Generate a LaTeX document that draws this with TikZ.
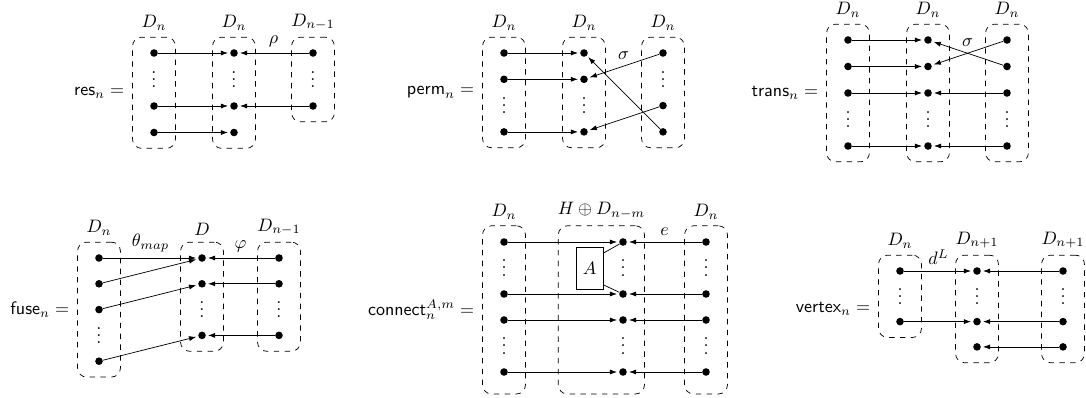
\documentclass[tikz,border=0pt]{standalone}
\usepackage{amsmath,amssymb}
\usepackage{tikz}
\usetikzlibrary{positioning,arrows.meta,fit,calc}

\begin{document}
\begin{tikzpicture}[x=0.555pt,y=-0.555pt,
  pt/.style={circle,fill,inner sep=0pt,minimum size=4.2pt},
  vd/.style={inner sep=0pt,yshift=3pt},
  grp/.style={draw,dashed,rounded corners=5pt,inner xsep=9.6pt,inner ysep=6.5pt},
  arr/.style={-{Latex[length=4pt,width=2.8pt]},shorten >=1pt}]
\useasboundingbox (0,0) rectangle (1086,398);

% res
\begin{scope}[shift={(154,53)}]
\foreach \c/\x/\rows in {1/0/{0,2,3},2/80/{0,2,3},3/159/{0,2}}
  \foreach \r in \rows \node[pt] (res\c\r) at (\x,\r*26.5) {};
\foreach \c/\x in {1/0,2/80,3/159} \node[vd] (resv\c) at (\x,26.5) {$\vdots$};
\node[grp,fit=(res10)(res13),label=above:$D_n$] (resb1) {};
\node[grp,fit=(res20)(res23),label=above:$D_n$] (resb2) {};
\node[grp,fit=(res30)(res32),label=above:$D_{n-1}$] (resb3) {};
\node[left=1pt of resb1] (reseq) {$\mathsf{res}_n =$};
\foreach \a/\b in {10/20,12/22,13/23,32/22} \draw[arr] (res\a) -- (res\b);
\draw[arr] (res30) -- node[above] {$\rho$} (res20);
\end{scope}

% perm
\begin{scope}[shift={(504,53)}]
\foreach \c/\x/\rows in {1/0/{0,1,3},2/80/{0,1,3},3/159/{0,2,3}}
  \foreach \r in \rows \node[pt] (prm\c\r) at (\x,\r*26.3) {};
\foreach \c/\x/\r in {1/0/2,2/80/2,3/159/1} \node[vd] (prmv\c) at (\x,\r*26.3) {$\vdots$};
\node[grp,fit=(prm10)(prm13),label=above:$D_n$] (prmb1) {};
\node[grp,fit=(prm20)(prm23),label=above:$D_n$] (prmb2) {};
\node[grp,fit=(prm30)(prm33),label=above:$D_n$] (prmb3) {};
\node[left=1pt of prmb1] (prmeq) {$\mathsf{perm}_n =$};
\foreach \a/\b in {10/20,11/21,13/23,33/20,32/23} \draw[arr] (prm\a) -- (prm\b);
\draw[arr] (prm30) -- node[above] {$\sigma$} (prm21);
\end{scope}

% trans
\begin{scope}[shift={(848,40)}]
\foreach \c/\x in {1/0,2/80,3/159}{
  \foreach \r in {0,1,2,4} \node[pt] (trn\c\r) at (\x,\r*26.5) {};
  \node[vd] (trnv\c) at (\x,3*26.5) {$\vdots$};
}
\node[grp,fit=(trn10)(trn14),label=above:$D_n$] (trnb1) {};
\node[grp,fit=(trn20)(trn24),label=above:$D_n$] (trnb2) {};
\node[grp,fit=(trn30)(trn34),label=above:$D_n$] (trnb3) {};
\node[left=1pt of trnb1] (trneq) {$\mathsf{trans}_n =$};
\foreach \a/\b in {10/20,11/21,12/22,14/24,31/20,32/22,34/24} \draw[arr] (trn\a) -- (trn\b);
\draw[arr] (trn30) -- node[above] {$\sigma$} (trn21);
\end{scope}

% fuse
\begin{scope}[shift={(99,258)}]
\foreach \c/\x/\rows in {1/0/{0,1,2,4},2/103/{0,1,3},3/180/{0,1,3}}
  \foreach \r in \rows \node[pt] (fus\c\r) at (\x,\r*25.8) {};
\foreach \c/\x/\r in {1/0/3,2/103/2,3/180/2} \node[vd] (fusv\c) at (\x,\r*25.8) {$\vdots$};
\node[grp,fit=(fus10)(fus14),label=above:$D_n$] (fusb1) {};
\node[grp,fit=(fus20)(fus23),label=above:$D$] (fusb2) {};
\node[grp,fit=(fus30)(fus33),label=above:$D_{n-1}$] (fusb3) {};
\node[left=1pt of fusb1] (fuseq) {$\mathsf{fuse}_n =$};
\foreach \a/\b in {11/20,12/21,14/23,31/21,33/23} \draw[arr] (fus\a) -- (fus\b);
\draw[arr] (fus10) -- node[above] {$\theta_{map}$} (fus20);
\draw[arr] (fus30) -- node[above] {$\varphi$} (fus20);
\end{scope}

% connect
\begin{scope}[shift={(504,242)},grp/.append style={inner ysep=8.3pt,yshift=-1.6pt}]
\foreach \c/\x in {1/0,2/119,3/202}{
  \foreach \r in {0,2,3,5} \node[pt] (con\c\r) at (\x,\r*26) {};
  \foreach \r in {1,4} \node[vd] (conv\c\r) at (\x,\r*26) {$\vdots$};
}
\node[draw,inner sep=0pt,minimum width=15pt,minimum height=23.3pt] (A) at (85.5,26.5) {$A$};
\node[grp,fit=(con10)(con15),label=above:$D_n$] (conb1) {};
\node[grp,fit=(A)(con20)(con25),label=above:$H \oplus D_{n-m}$] (conb2) {};
\node[grp,fit=(con30)(con35),label=above:$D_n$] (conb3) {};
\node[left=1pt of conb1] (coneq) {$\mathsf{connect}^{A,m}_n =$};
\foreach \a/\b in {10/20,12/22,13/23,15/25,32/22,33/23,35/25} \draw[arr] (con\a) -- (con\b);
\draw[arr] (con30) -- node[above] {$e$} (con20);
\draw ($(A.north east)+(0,6)$) -- (con20);
\draw ($(A.south east)+(0,-5)$) -- (con22);
\end{scope}

% vertex
\begin{scope}[shift={(900,271)}]
\foreach \c/\x/\rows in {1/0/{0,2},2/77/{0,2,3},3/163/{0,2,3}}
  \foreach \r in \rows \node[pt] (vtx\c\r) at (\x,\r*25.3) {};
\foreach \c/\x in {1/0,2/77,3/163} \node[vd] (vtxv\c) at (\x,25.3) {$\vdots$};
\node[grp,fit=(vtx10)(vtx12),label=above:$D_n$] (vtxb1) {};
\node[grp,fit=(vtx20)(vtx23),label=above:$D_{n+1}$] (vtxb2) {};
\node[grp,fit=(vtx30)(vtx33),label=above:$D_{n+1}$] (vtxb3) {};
\coordinate (vtxm) at (vtxb1.west |- vtxb2.center);
\node[left=1pt of vtxm] (vtxeq) {$\mathsf{vertex}_n =$};
\foreach \a/\b in {12/22,30/20,32/22,33/23} \draw[arr] (vtx\a) -- (vtx\b);
\draw[arr] (vtx10) -- node[above] {$d^L$} (vtx20);
\end{scope}
\end{tikzpicture}
\end{document}
